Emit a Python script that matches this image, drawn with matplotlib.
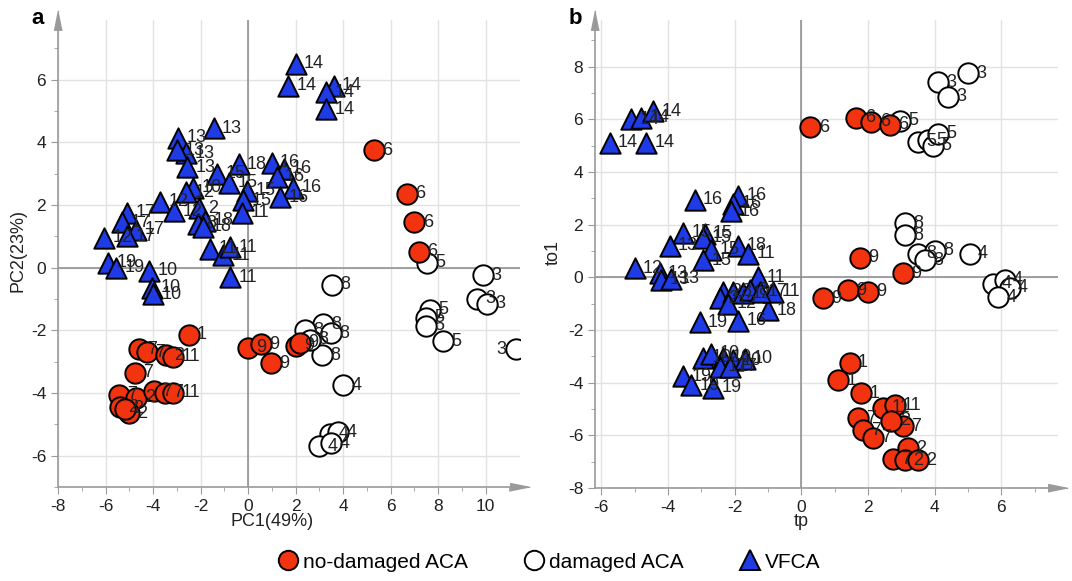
import matplotlib
matplotlib.use('Agg')
import matplotlib.pyplot as plt
from matplotlib.ticker import MultipleLocator
from matplotlib.lines import Line2D

plt.rcParams['font.family'] = ['Liberation Sans', 'DejaVu Sans']
plt.rcParams['axes.unicode_minus'] = False

# ---------------- panel a : PCA scores ----------------
a_red_x = [5.3, 6.7, 7.0, 7.2, -2.5, -4.6, -4.25, -3.45, -3.15, -4.75, -5.45, -4.7,
           -3.95, -3.5, -3.15, -5.4, -5.0, -5.2, 0.0, 0.55, 0.95, 2.0, 2.2]
a_red_y = [3.75, 2.35, 1.45, 0.5, -2.15, -2.6, -2.7, -2.8, -2.85, -3.35, -4.05, -4.15,
           -3.95, -4.0, -4.0, -4.45, -4.65, -4.5, -2.55, -2.45, -3.05, -2.5, -2.4]
a_red_lab = [6, 6, 6, 6, 1, 7, 7, 2, 11, 7, 7, 2, 7, 7, 11, 2, 2, 2, 9, 9, 9, 9, 9]

a_white_x = [7.55, 9.9, 3.55, 9.65, 10.05, 11.3, 7.65, 7.5, 7.5, 8.2, 3.15, 3.5, 3.1,
             2.4, 2.6, 4.0, 3.45, 3.8, 3.0, 3.5]
a_white_y = [0.15, -0.25, -0.55, -1.0, -1.15, -2.6, -1.35, -1.6, -1.85, -2.35, -1.8,
             -2.1, -2.8, -2.0, -2.3, -3.75, -5.3, -5.25, -5.7, -5.6]
a_white_lab = [5, 3, 8, 3, 3, 3, 5, 5, 5, 5, 8, 8, 8, 8, 8, 4, 4, 4, 4, 4]

a_blue_x = [2.0, 1.7, 3.6, 3.3, 3.3,
            -1.45, -2.95, -2.6, -3.0, -2.55,
            -0.4, 1.0, 1.5, 1.2, 1.9, 1.35,
            -1.3, -0.8, -0.05, -0.2,
            -0.25, -1.6, -1.05, -0.75, -0.75,
            -2.3, -4.15, -4.05, -4.0,
            -2.6, -3.7, -6.05, -3.1,
            -2.05, -1.8, -2.1, -1.9,
            -5.1, -5.3, -4.7, -5.1,
            -5.9, -5.55]
a_blue_y = [6.5, 5.8, 5.8, 5.6, 5.05,
            4.45, 4.15, 3.65, 3.75, 3.2,
            3.3, 3.35, 3.15, 2.9, 2.55, 2.25,
            3.0, 2.7, 2.45, 2.15,
            1.75, 0.6, 0.4, 0.65, -0.3,
            2.55, -0.1, -0.65, -0.85,
            2.4, 2.1, 0.95, 1.8,
            1.9, 1.5, 1.4, 1.3,
            1.75, 1.45, 1.2, 1.0,
            0.15, 0.0]
a_blue_lab = [14, 14, 14, 14, 14,
              13, 13, 13, 13, 13,
              18, 16, 16, 16, 16, 16,
              15, 15, 15, 15,
              11, 11, 11, 11, 11,
              10, 10, 10, 10,
              12, 12, 12, 12,
              2, 18, 8, 18,
              17, 17, 17, 17,
              19, 19]

# ---------------- panel b : OPLS-DA scores ----------------
b_red_x = [0.27, 1.65, 2.1, 2.65, 1.75, 3.05, 0.65, 1.4, 2.0, 1.45, 1.1, 1.8,
           2.45, 2.8, 1.7, 3.05, 1.85, 2.15, 2.75, 2.7, 3.2, 3.1, 3.5]
b_red_y = [5.7, 6.05, 5.9, 5.8, 0.75, 0.15, -0.8, -0.5, -0.55, -3.25, -3.9, -4.4,
           -4.95, -4.85, -5.35, -5.65, -5.8, -6.1, -6.9, -5.45, -6.5, -6.95, -6.95]
b_red_lab = [6, 6, 6, 6, 9, 9, 9, 9, 9, 1, 1, 1, 11, 11, 7, 7, 7, 7, 7, 2, 2, 2, 2]

b_white_x = [5.0, 4.1, 4.4, 2.95, 3.5, 3.8, 3.95, 4.1, 3.1, 3.1, 3.5, 4.0, 3.7,
             5.05, 5.75, 6.1, 6.25, 5.9]
b_white_y = [7.75, 7.4, 6.85, 5.95, 5.15, 5.2, 5.0, 5.45, 2.05, 1.6, 0.9, 1.0, 0.65,
             0.9, -0.25, -0.1, -0.4, -0.75]
b_white_lab = [3, 3, 3, 5, 5, 5, 5, 5, 8, 8, 8, 8, 8, 4, 4, 4, 4, 4]

b_blue_x = [-5.1, -4.8, -4.45, -5.75, -4.65,
            -3.2, -1.9, -2.05, -2.1,
            -3.55, -2.9, -2.95, -2.7, -2.95,
            -3.95, -4.25, -4.2, -3.9,
            -1.9, -1.0,
            -1.6, -1.3, -0.85,
            -5.0,
            -2.35, -2.45, -2.05, -1.75, -1.55, -1.25, -2.2,
            -3.05, -3.55, -3.3, -2.65,
            -1.9,
            -2.95, -2.7, -2.35, -2.05, -1.7,
            -2.45, -2.15]
b_blue_y = [6.0, 6.05, 6.3, 5.1, 5.1,
            2.95, 3.1, 2.8, 2.5,
            1.7, 1.65, 1.5, 1.05, 0.65,
            1.2, 0.15, -0.1, -0.05,
            1.2, -1.25,
            0.9, 0.0, -0.55,
            0.35,
            -0.55, -0.8, -0.55, -0.6, -0.5, -0.55, -1.0,
            -1.7, -3.75, -4.1, -4.2,
            -1.65,
            -3.05, -2.9, -3.05, -3.15, -3.1,
            -3.4, -3.4]
b_blue_lab = [14, 14, 14, 14, 14,
              16, 16, 16, 16,
              15, 15, 15, 15, 15,
              13, 13, 13, 13,
              18, 18,
              11, 11, 11,
              12,
              2, 2, 8, 12, 8, 17, 12,
              19, 19, 19, 19,
              16,
              10, 10, 10, 10, 10,
              17, 17]

RED = '#f2330f'
BLUE = '#1e3be6'
AXC = '#9a9a9a'

fig = plt.figure(figsize=(10.72, 5.81), dpi=100)
W, H = 1072, 581
ax_a = fig.add_axes([58 / W, 1 - 487 / H, (520 - 58) / W, (487 - 20) / H])
ax_b = fig.add_axes([595 / W, 1 - 488 / H, (1058 - 595) / W, (488 - 20) / H])


def style_axes(ax, xlim, ylim):
    ax.set_xlim(*xlim)
    ax.set_ylim(*ylim)
    for s in ['top', 'right']:
        ax.spines[s].set_visible(False)
    for s in ['left', 'bottom']:
        ax.spines[s].set_color(AXC)
        ax.spines[s].set_linewidth(1.2)
    ax.xaxis.set_major_locator(MultipleLocator(2))
    ax.yaxis.set_major_locator(MultipleLocator(2))
    ax.xaxis.set_minor_locator(MultipleLocator(1))
    ax.yaxis.set_minor_locator(MultipleLocator(1))
    ax.tick_params(which='both', direction='out', color=AXC, labelsize=12.5,
                   labelcolor='#222222')
    ax.tick_params(which='major', length=5)
    ax.tick_params(which='minor', length=3)
    ax.grid(True, which='major', color='#e2e2e2', linewidth=1, zorder=0)
    ax.set_axisbelow(True)
    ax.axhline(0, color='#8a8a8a', linewidth=1.1, zorder=1)
    ax.axvline(0, color='#8a8a8a', linewidth=1.1, zorder=1)
    arrow_up = [(0, 1), (-0.4, -1), (0.4, -1)]
    arrow_right = [(1, 0), (-1, 0.4), (-1, -0.4)]
    ax.plot(0, 1, marker=arrow_up, ms=14, color=AXC, transform=ax.transAxes,
            clip_on=False)
    ax.plot(1, 0, marker=arrow_right, ms=14, color=AXC, transform=ax.transAxes,
            clip_on=False)


def draw_group(ax, xs, ys, labs, marker, face, z, xright):
    ax.scatter(xs, ys, s=215, marker=marker, facecolor=face, edgecolor='black',
               linewidth=1.4, zorder=z)
    for x, y, l in zip(xs, ys, labs):
        if x > xright:
            ax.annotate(str(l), (x, y), xytext=(-7, 0), textcoords='offset points',
                        ha='right', va='center', fontsize=13, color='#222222', zorder=10)
        else:
            ax.annotate(str(l), (x, y), xytext=(6, 0), textcoords='offset points',
                        ha='left', va='center', fontsize=13, color='#222222', zorder=10)


style_axes(ax_a, (-8, 11.45), (-7, 7.9))
draw_group(ax_a, a_white_x, a_white_y, a_white_lab, 'o', 'white', 3, 11)
draw_group(ax_a, a_blue_x, a_blue_y, a_blue_lab, '^', BLUE, 4, 11)
draw_group(ax_a, a_red_x, a_red_y, a_red_lab, 'o', RED, 5, 11)

style_axes(ax_b, (-6.19, 7.7), (-8, 9.77))
draw_group(ax_b, b_white_x, b_white_y, b_white_lab, 'o', 'white', 3, 99)
draw_group(ax_b, b_blue_x, b_blue_y, b_blue_lab, '^', BLUE, 4, 99)
draw_group(ax_b, b_red_x, b_red_y, b_red_lab, 'o', RED, 5, 99)

# axis titles and panel letters
fig.text(18 / W, 1 - 251 / H, 'PC2(23%)', rotation=90, ha='center', va='center',
         fontsize=13, color='#222222')
fig.text(553 / W, 1 - 252 / H, 'to1', rotation=90, ha='center', va='center',
         fontsize=13, color='#222222')
fig.text(272 / W, 1 - 521 / H, 'PC1(49%)', ha='center', va='center', fontsize=13,
         color='#222222')
fig.text(801 / W, 1 - 522 / H, 'tp', ha='center', va='center', fontsize=13,
         color='#222222')
fig.text(38 / W, 1 - 18 / H, 'a', ha='center', va='center', fontsize=16,
         fontweight='bold')
fig.text(575 / W, 1 - 18 / H, 'b', ha='center', va='center', fontsize=16,
         fontweight='bold')

handles = [
    Line2D([], [], marker='o', ls='', ms=14, mfc=RED, mec='black', mew=1.4),
    Line2D([], [], marker='o', ls='', ms=14, mfc='white', mec='black', mew=1.4),
    Line2D([], [], marker='^', ls='', ms=14, mfc=BLUE, mec='black', mew=1.4),
]
fig.legend(handles, ['no-damaged ACA', 'damaged ACA', 'VFCA'], loc='center',
           bbox_to_anchor=(548 / W, 1 - 562 / H), ncol=3, frameon=False,
           fontsize=15, handletextpad=0.1, columnspacing=2.6, handlelength=1.2)

fig.savefig('out.png', dpi=100)
